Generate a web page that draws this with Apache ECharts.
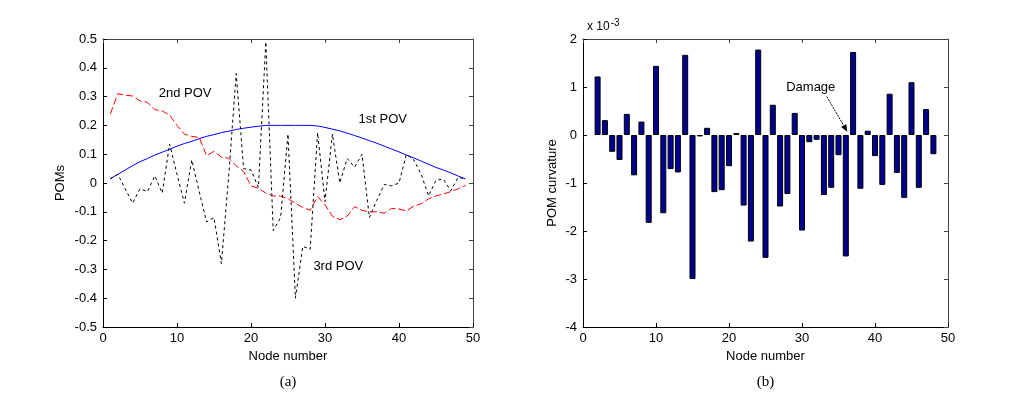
<!DOCTYPE html>
<html>
<head>
<meta charset="utf-8">
<script src="https://cdn.jsdelivr.net/npm/echarts@6/dist/echarts.min.js"></script>
<style>
  html, body { margin: 0; background: #fff; }
  #main { width: 1013px; height: 406px; }
</style>
</head>
<body>
<div id="main"></div>
<script>
  // node numbers for (a)
  const nodes = [1,2,3,4,5,6,7,8,9,10,11,12,13,14,15,16,17,18,19,20,21,22,23,24,25,
    26,27,28,29,30,31,32,33,34,35,36,37,38,39,40,41,42,43,44,45,46,47,48,49];
  // 1st POV (blue)
  const pov1 = [0.015,0.03,0.045,0.06,0.074,0.085,0.097,0.107,0.117,0.128,0.137,0.145,0.154,
    0.162,0.168,0.175,0.18,0.186,0.19,0.194,0.197,0.2,0.2,0.2,0.2,0.2,0.2,0.2,0.198,0.193,
    0.187,0.181,0.173,0.165,0.156,0.147,0.138,0.128,0.118,0.108,0.097,0.087,0.076,0.065,
    0.054,0.045,0.035,0.024,0.014];
  // 2nd POV (red dashed)
  const pov2 = [0.24,0.31,0.305,0.302,0.285,0.28,0.255,0.25,0.236,0.2,0.17,0.162,0.158,
    0.095,0.11,0.09,0.086,0.06,0.04,-0.01,-0.018,-0.035,-0.045,-0.045,-0.055,-0.07,-0.085,
    -0.095,-0.047,-0.076,-0.115,-0.128,-0.115,-0.082,-0.095,-0.1,-0.1,-0.105,-0.088,-0.09,
    -0.097,-0.08,-0.072,-0.055,-0.045,-0.038,-0.03,-0.02,-0.008];
  // 3rd POV (black dotted)
  const pov3 = [0.015,0.03,-0.02,-0.07,-0.02,-0.03,0.025,-0.035,0.135,0.03,-0.07,0.08,-0.03,
    -0.135,-0.12,-0.28,0.03,0.38,0.05,0.045,-0.015,0.49,-0.165,-0.12,0.17,-0.4,-0.22,-0.23,
    0.175,-0.065,0.17,0.0,0.085,0.055,0.1,-0.12,-0.06,-0.005,-0.01,0.0,0.1,0.08,0.03,-0.045,
    0.01,0.013,-0.027,0.02,0.013];

  // (b) POM curvature, x 10^-3
  const curvNodes = [2,3,4,5,6,7,8,9,10,11,12,13,14,15,16,17,18,19,20,21,22,23,24,25,
    26,27,28,29,30,31,32,33,34,35,36,37,38,39,40,41,42,43,44,45,46,47,48];
  const curvature = [1.22,0.31,-0.35,-0.52,0.44,-0.84,0.28,-1.83,1.44,-1.63,-0.71,-0.78,
    1.67,-3.0,-0.03,0.15,-1.19,-1.15,-0.65,0.04,-1.47,-2.22,1.78,-2.56,0.63,-1.49,-1.23,
    0.46,-1.99,-0.15,-0.1,-1.25,-1.1,-0.42,-2.53,1.73,-1.12,0.09,-0.44,-1.04,0.86,-0.79,
    -1.31,1.1,-1.1,0.54,-0.4];

  const font = 'Liberation Sans, Arial, sans-serif';
  const pair = (xs, ys) => xs.map((x, i) => [x, ys[i]]);

  // main axis and box axis (top/right, no labels)
  function xMain(grid) {
    return {
      type: 'value', gridIndex: grid, min: 0, max: 50, interval: 10, position: 'bottom',
      name: 'Node number', nameLocation: 'middle', nameGap: 22,
      nameTextStyle: { color: '#000', fontSize: 13, fontFamily: font },
      axisLine: { onZero: false, lineStyle: { color: '#000', width: 1 } },
      axisTick: { inside: true, length: 4, lineStyle: { color: '#000' } },
      axisLabel: { color: '#000', fontSize: 13, fontFamily: font, margin: 5 },
      splitLine: { show: false }
    };
  }
  function xBox(grid) {
    return {
      type: 'value', gridIndex: grid, min: 0, max: 50, interval: 10, position: 'top',
      axisLine: { onZero: false, lineStyle: { color: '#444', width: 1 } },
      axisTick: { inside: true, length: 4, lineStyle: { color: '#444' } },
      axisLabel: { show: false }, splitLine: { show: false }
    };
  }
  function yBox(grid, min, max, step) {
    return {
      type: 'value', gridIndex: grid, min: min, max: max, interval: step, position: 'right',
      axisLine: { show: true, onZero: false, lineStyle: { color: '#444', width: 1 } },
      axisTick: { show: true, inside: true, length: 4, lineStyle: { color: '#444' } },
      axisLabel: { show: false }, splitLine: { show: false }
    };
  }

  const myChart = echarts.init(document.getElementById('main'));
  myChart.setOption({
    backgroundColor: '#fff',
    animation: false,
    grid: [
      { left: 103, top: 39, width: 370, height: 288 },
      { left: 583, top: 39, width: 365, height: 288 }
    ],
    xAxis: [xMain(0), xBox(0), xMain(1), xBox(1)],
    yAxis: [
      {
        type: 'value', gridIndex: 0, min: -0.5, max: 0.5, interval: 0.1,
        name: 'POMs', nameLocation: 'middle', nameGap: 36,
        nameTextStyle: { color: '#000', fontSize: 13, fontFamily: font },
        axisLine: { show: true, onZero: false, lineStyle: { color: '#000' } },
        axisTick: { show: true, inside: true, length: 4, lineStyle: { color: '#000' } },
        axisLabel: { color: '#000', fontSize: 13, fontFamily: font, margin: 6 },
        splitLine: { show: false }
      },
      yBox(0, -0.5, 0.5, 0.1),
      {
        type: 'value', gridIndex: 1, min: -4, max: 2, interval: 1,
        name: 'POM curvature', nameLocation: 'middle', nameGap: 24,
        nameTextStyle: { color: '#000', fontSize: 13, fontFamily: font },
        axisLine: { show: true, onZero: false, lineStyle: { color: '#000' } },
        axisTick: { show: true, inside: true, length: 4, lineStyle: { color: '#000' } },
        axisLabel: { color: '#000', fontSize: 13, fontFamily: font, margin: 6 },
        splitLine: { show: false }
      },
      yBox(1, -4, 2, 1)
    ],
    series: [
      {
        name: '1st POV', type: 'line', xAxisIndex: 0, yAxisIndex: 0,
        data: pair(nodes, pov1), showSymbol: false,
        lineStyle: { color: '#0000ff', width: 1 }
      },
      {
        name: '2nd POV', type: 'line', xAxisIndex: 0, yAxisIndex: 0,
        data: pair(nodes, pov2), showSymbol: false,
        lineStyle: { color: '#ff0000', width: 1, type: [7, 3] }
      },
      {
        name: '3rd POV', type: 'line', xAxisIndex: 0, yAxisIndex: 0,
        data: pair(nodes, pov3), showSymbol: false,
        lineStyle: { color: '#000', width: 1, type: [3, 3] }
      },
      {
        name: 'POM curvature', type: 'bar', xAxisIndex: 2, yAxisIndex: 2,
        data: pair(curvNodes, curvature), barWidth: 6,
        itemStyle: { color: '#000090', borderColor: '#000', borderWidth: 1 }
      }
    ]
  });

  // text annotations placed in data coordinates
  const px = (g, x, y) => myChart.convertToPixel({ gridIndex: g }, [x, y]);
  const notes = [
    { g: 0, x: 11.1, y: 0.31, text: '2nd POV' },
    { g: 0, x: 37.8, y: 0.22, text: '1st POV' },
    { g: 0, x: 31.8, y: -0.29, text: '3rd POV' },
    { g: 1, x: 31.2, y: 1.0, text: 'Damage' }
  ];
  const graphic = notes.map(n => {
    const p = px(n.g, n.x, n.y);
    return {
      type: 'text', x: p[0], y: p[1],
      style: { text: n.text, fill: '#000', font: '13px ' + font, align: 'center', verticalAlign: 'middle' }
    };
  });

  // Damage arrow
  const a0 = px(1, 33.4, 0.8);
  const a1 = px(1, 36.2, 0.07);
  const ang = Math.atan2(a1[1] - a0[1], a1[0] - a0[0]);
  const hl = 7, hw = 3;
  const bx = a1[0] - hl * Math.cos(ang), by = a1[1] - hl * Math.sin(ang);
  graphic.push({
    type: 'line', shape: { x1: a0[0], y1: a0[1], x2: bx, y2: by },
    style: { stroke: '#000', lineWidth: 1, lineDash: [2, 1] }
  });
  graphic.push({
    type: 'polygon',
    shape: { points: [a1, [bx - hw * Math.sin(ang), by + hw * Math.cos(ang)], [bx + hw * Math.sin(ang), by - hw * Math.cos(ang)]] },
    style: { fill: '#000' }
  });

  // x 10^-3 exponent label
  const e = px(1, 0, 2);
  graphic.push({
    type: 'text', x: e[0] + 4, y: e[1] - 3,
    style: {
      text: '{a|x 10}{b|-3}', verticalAlign: 'bottom',
      rich: {
        a: { font: '12px ' + font, fill: '#000' },
        b: { font: '10px ' + font, fill: '#000', verticalAlign: 'top', padding: [0, 0, 8, 1] }
      }
    }
  });

  // sub captions
  [[0, '(a)'], [1, '(b)']].forEach(([g, t]) => {
    const p = px(g, 25, -0.5);
    const q = px(g, 25, g === 0 ? -0.5 : -4);
    graphic.push({
      type: 'text', x: q[0], y: 382,
      style: { text: t, fill: '#000', font: '15px Liberation Serif, serif', align: 'center', verticalAlign: 'middle' }
    });
  });

  myChart.setOption({ graphic: graphic });
  window.addEventListener('resize', myChart.resize);
</script>
</body>
</html>
